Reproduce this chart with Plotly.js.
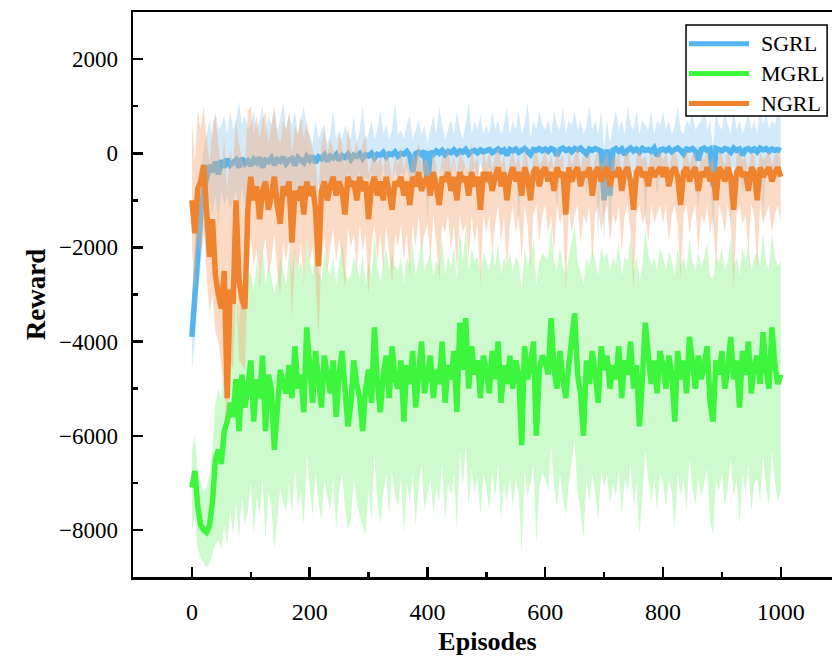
<!DOCTYPE html>
<html>
<head>
<meta charset="utf-8">
<script src="https://cdn.plot.ly/plotly-3.0.1.min.js"></script>
<style>
html,body{margin:0;padding:0;background:#fff;overflow:hidden;width:832px;height:664px;}
#chart{width:842px;height:664px;}
</style>
</head>
<body>
<div id="chart"></div>
<script>
// Episodes (every 5th episode)
const episodes = [0,5,10,15,20,25,30,35,40,45,50,55,60,65,70,75,80,85,90,95,
100,105,110,115,120,125,130,135,140,145,150,155,160,165,170,175,180,185,190,195,
200,205,210,215,220,225,230,235,240,245,250,255,260,265,270,275,280,285,290,295,
300,305,310,315,320,325,330,335,340,345,350,355,360,365,370,375,380,385,390,395,
400,405,410,415,420,425,430,435,440,445,450,455,460,465,470,475,480,485,490,495,
500,505,510,515,520,525,530,535,540,545,550,555,560,565,570,575,580,585,590,595,
600,605,610,615,620,625,630,635,640,645,650,655,660,665,670,675,680,685,690,695,
700,705,710,715,720,725,730,735,740,745,750,755,760,765,770,775,780,785,790,795,
800,805,810,815,820,825,830,835,840,845,850,855,860,865,870,875,880,885,890,895,
900,905,910,915,920,925,930,935,940,945,950,955,960,965,970,975,980,985,990,995,1000];

// SGRL
const sgrlMean = [-3900,-2900,-1900,-1300,-800,-450,-250,-400,-180,-450,-150,-300,-120,-250,-200,-140,-300,-100,-220,-160,
-260,-130,-200,-90,-300,-150,-180,-100,-250,-130,-170,-80,-220,-140,-110,-260,-90,-160,-200,-70,
-150,-60,-200,-80,-120,-40,-170,-60,-100,-30,-150,-50,-90,-20,-130,-40,-70,-10,-110,-30,
-60,0,-100,-20,-40,20,-80,-10,-30,30,-60,0,-20,40,-50,-400,-10,20,-30,50,
-700,30,-20,50,0,60,-30,40,10,70,-10,50,20,80,-20,40,60,10,70,30,
50,80,10,60,90,30,70,-40,80,50,90,20,60,100,40,-30,80,60,100,50,
90,40,100,70,-50,80,110,60,90,30,100,70,110,50,-20,90,60,100,80,40,
-1000,80,-900,60,100,40,90,-30,70,110,50,90,20,100,60,80,40,110,-60,70,
90,50,100,30,80,110,60,-20,90,70,100,40,-150,80,110,60,90,-700,100,70,
50,100,80,20,110,60,90,-40,80,100,50,90,30,110,70,100,40,90,60,80,50];
const sgrlUpper = [-3200,-1800,-1000,-400,100,400,700,300,900,500,600,800,400,900,500,700,1100,600,800,500,
600,900,500,700,1000,400,800,600,900,500,700,1100,500,800,600,900,400,700,1000,500,
400,200,700,300,500,600,200,400,900,300,500,300,600,400,300,800,200,500,1000,300,
400,700,300,500,900,400,600,300,500,1100,400,500,300,600,800,300,500,700,400,600,
200,500,800,400,1000,600,300,500,700,400,900,500,300,600,1100,400,700,500,800,400,
600,400,900,500,700,400,600,1000,400,700,500,900,400,600,1100,300,700,500,900,600,
500,700,400,900,600,500,1000,400,700,600,900,500,700,400,600,1000,500,700,400,900,
100,700,200,600,900,500,700,400,1000,600,500,900,400,700,600,500,900,400,700,600,
900,500,700,400,600,1000,500,400,700,600,900,500,600,700,1100,500,700,100,900,600,
500,900,600,400,1000,500,700,400,600,900,500,700,400,1000,600,900,500,700,600,900,700];
const sgrlLower = [-4600,-4000,-3000,-2400,-1800,-1400,-1000,-1300,-900,-1500,-800,-1100,-900,-1200,-1000,-800,-1300,-700,-1100,-900,
-1100,-800,-1000,-700,-1300,-900,-1000,-700,-1200,-800,-1000,-600,-1100,-800,-700,-1300,-600,-900,-1100,-600,
-900,-600,-1100,-700,-800,-500,-1000,-600,-700,-500,-900,-600,-700,-400,-900,-500,-600,-400,-800,-500,
-600,-400,-800,-500,-600,-300,-700,-500,-600,-300,-700,-400,-500,-300,-600,-1200,-500,-400,-600,-300,
-1500,-400,-600,-300,-500,-300,-700,-400,-500,-200,-600,-300,-500,-200,-700,-400,-300,-500,-200,-400,
-400,-300,-600,-400,-300,-600,-400,-1000,-300,-500,-300,-1600,-400,-300,-500,-900,-300,-400,-300,-500,
-300,-600,-300,-400,-1200,-400,-300,-500,-400,-700,-300,-400,-300,-500,-900,-300,-400,-300,-1800,-400,
-1900,-400,-1700,-500,-300,-500,-400,-900,-400,-300,-500,-400,-600,-300,-1500,-400,-500,-300,-900,-400,
-400,-500,-300,-600,-400,-300,-500,-900,-400,-500,-300,-600,-1200,-400,-300,-500,-400,-1800,-300,-500,
-500,-300,-400,-1600,-300,-500,-400,-900,-400,-300,-500,-400,-600,-300,-1400,-300,-500,-400,-300,-500,-400];

// MGRL
const mgrlMean = [-7100,-6750,-7500,-7900,-8000,-8050,-7900,-7400,-6500,-6300,-6600,-5900,-5700,-5300,-5600,-4800,-5900,-4700,-5400,-5000,
-4400,-5700,-4800,-5200,-4300,-5900,-4700,-5000,-6300,-5400,-4600,-4900,-5100,-4500,-5200,-4100,-5000,-4700,-5500,-3700,
-4500,-5300,-4200,-4900,-5400,-4300,-4800,-5100,-4400,-5600,-4700,-4200,-5000,-5800,-5300,-4400,-4900,-5200,-5900,-5000,
-4600,-5300,-3700,-4900,-5500,-4700,-4300,-5200,-4100,-4800,-5000,-4400,-5700,-4500,-4900,-4200,-5400,-4600,-4000,-5100,
-4700,-4300,-5200,-4600,-4900,-4000,-5300,-4500,-4800,-4200,-5500,-3600,-4600,-3500,-5000,-4100,-4700,-4400,-5200,-4300,
-4600,-5100,-4200,-4800,-4000,-5300,-4500,-4900,-4300,-5000,-4400,-4700,-6200,-4100,-4800,-4500,-4000,-6000,-4600,-4300,
-4400,-4700,-3500,-4600,-5000,-4200,-4800,-5200,-4500,-4000,-3400,-4700,-5100,-6000,-4400,-4900,-4200,-4700,-5300,-4100,
-4600,-4300,-5000,-4500,-4800,-4100,-5200,-4400,-4700,-4000,-5000,-4500,-5800,-4800,-3600,-4300,-4900,-4400,-5100,-4200,
-4500,-5000,-4300,-4700,-5700,-4200,-4800,-4400,-5100,-3900,-4600,-5000,-4300,-4800,-4500,-4100,-5300,-5700,-4400,-4700,
-4200,-5000,-4600,-3900,-4800,-4400,-5400,-4200,-4700,-4000,-5100,-4500,-4300,-4900,-3800,-4600,-5000,-3700,-4500,-4900,-4700];
const mgrlUpper = [-6300,-6000,-6700,-7000,-7200,-7100,-6800,-6300,-5300,-5000,-5200,-4300,-4000,-3400,-3600,-2900,-3700,-2800,-3200,-2600,
-2500,-2900,-2300,-2700,-1900,-2800,-2400,-2600,-3000,-2700,-2200,-2500,-2800,-2100,-2600,-2000,-2500,-2300,-2700,-1800,
-2300,-2600,-2000,-2500,-2700,-2100,-2400,-2600,-2200,-2800,-2300,-1900,-2500,-2700,-2600,-2200,-2400,-2700,-2100,-2800,
-2300,-2600,-1700,-2400,-2700,-2300,-2000,-2500,-2100,-2400,-2500,-2200,-2800,-2200,-2400,-1900,-2600,-2300,-1800,-2500,
-2300,-2100,-2600,-2300,-2400,-1800,-2600,-2200,-2400,-2000,-2700,-1600,-2300,-1600,-2500,-2000,-2300,-2200,-2600,-2100,
-2300,-2500,-2000,-2400,-1900,-2600,-2200,-2400,-2100,-2500,-2200,-2300,-2900,-2000,-2400,-2200,-1800,-2800,-2300,-2100,
-2200,-2300,-1500,-2300,-2500,-2000,-2400,-2600,-2200,-1900,-1500,-2300,-2500,-2800,-2200,-2400,-2000,-2300,-2600,-2000,
-2300,-2100,-2500,-2200,-2400,-1900,-2600,-2200,-2300,-1800,-2500,-2200,-2700,-2400,-1600,-2100,-2400,-2200,-2500,-2000,
-2200,-2500,-2100,-2300,-2600,-2000,-2400,-2200,-2500,-1800,-2300,-2500,-2100,-2400,-2200,-1900,-2600,-2700,-2200,-2300,
-2000,-2500,-2300,-1800,-2400,-2200,-2600,-2000,-2300,-1900,-2500,-2200,-2100,-2400,-1700,-2300,-2500,-1700,-2200,-2400,-2300];
const mgrlLower = [-8000,-7700,-8400,-8600,-8700,-8800,-8700,-8500,-8300,-8200,-8400,-7900,-8300,-7600,-8100,-7400,-8200,-7300,-7900,-7600,
-7000,-8100,-7300,-7700,-6900,-8200,-7200,-7500,-8400,-7800,-7100,-7400,-7600,-7000,-7700,-6700,-7500,-7200,-7900,-6400,
-7000,-7700,-6800,-7400,-7800,-6900,-7300,-7600,-6900,-8000,-7200,-6800,-7500,-8000,-7800,-6900,-7400,-7700,-7900,-8100,
-7100,-7800,-6400,-7400,-7900,-7200,-6800,-7700,-6700,-7300,-7500,-6900,-8100,-7000,-7400,-6800,-7900,-7100,-6600,-7600,
-7200,-6900,-7700,-7100,-7400,-6600,-7800,-7000,-7300,-6800,-8000,-6300,-7100,-6200,-7500,-6700,-7200,-6900,-7700,-6800,
-7100,-7600,-6800,-7300,-6600,-7800,-7000,-7400,-6900,-7500,-6900,-7200,-8500,-6700,-7300,-7000,-6600,-8300,-7100,-6800,
-6900,-7200,-6200,-7100,-7500,-6800,-7300,-7700,-7000,-6600,-6100,-7200,-7600,-8200,-6900,-7400,-6800,-7200,-7800,-6700,
-7100,-6800,-7500,-7000,-7300,-6700,-7700,-6900,-7200,-6600,-7500,-7000,-8100,-7300,-6300,-6900,-7400,-6900,-7600,-6800,
-7000,-7500,-6900,-7200,-8000,-6800,-7300,-6900,-7600,-6500,-7100,-7500,-6900,-7300,-7000,-6700,-7800,-8100,-6900,-7200,
-6800,-7500,-7100,-6500,-7300,-6900,-7900,-6800,-7200,-6600,-7600,-7000,-6900,-7400,-6400,-7100,-7500,-6300,-7000,-7400,-7200];

// NGRL
const ngrlMean = [-1000,-1700,-750,-600,-250,-1200,-2200,-1400,-2600,-3000,-3300,-2500,-5200,-2900,-3200,-1000,-2700,-3100,-3300,-1200,
-500,-1000,-700,-1400,-800,-600,-1200,-900,-500,-1100,-1500,-700,-900,-600,-1900,-800,-1000,-700,-1300,-600,
-900,-700,-1200,-2400,-800,-600,-1000,-700,-500,-900,-600,-800,-1300,-500,-700,-600,-1000,-500,-800,-600,
-1400,-700,-500,-900,-600,-1000,-500,-800,-1200,-600,-700,-500,-900,-600,-1100,-500,-700,-400,-800,-600,
-500,-900,-400,-700,-1100,-500,-600,-400,-800,-500,-1000,-400,-600,-500,-900,-400,-700,-500,-1200,-400,
-600,-400,-800,-500,-300,-700,-400,-1000,-500,-300,-600,-400,-900,-300,-500,-1000,-400,-300,-700,-400,
-300,-600,-400,-800,-300,-500,-400,-1300,-300,-600,-400,-300,-700,-400,-500,-300,-900,-400,-300,-600,
-400,-300,-700,-400,-500,-300,-800,-400,-300,-600,-1200,-400,-300,-500,-400,-700,-300,-500,-400,-300,
-500,-300,-700,-400,-300,-500,-1100,-400,-300,-600,-400,-300,-800,-400,-500,-300,-600,-400,-1000,-300,
-400,-600,-300,-500,-1200,-400,-300,-500,-400,-800,-300,-400,-1000,-300,-500,-400,-300,-600,-400,-300,-500];
const ngrlUpper = [700,-200,900,500,1000,300,-200,600,800,200,-400,300,-800,100,-200,700,200,-100,-300,900,
1000,400,800,300,700,900,200,600,1000,400,200,700,500,900,0,600,400,800,300,700,
300,100,-200,-900,200,500,0,300,100,-100,400,200,-300,600,100,0,300,-100,200,400,
-450,-150,50,-250,-50,-350,50,-150,-550,-50,-250,150,-350,-50,-450,50,-150,250,-250,-150,
-150,-450,50,-250,-550,-50,-150,150,-350,-50,-450,50,-150,-250,-450,250,-250,-50,-650,50,
-250,50,-350,-50,150,-250,-50,-550,-150,50,-250,-50,-450,150,-150,-550,-50,50,-250,-150,
50,-250,-50,-350,150,-150,-50,-750,50,-250,-50,150,-350,-50,-150,50,-450,-50,50,-250,
-150,50,-350,-50,-150,50,-450,-50,50,-250,-750,-50,50,-150,-50,-350,50,-150,-50,50,
-150,50,-350,-50,50,-150,-650,-50,50,-250,-50,50,-450,-50,-150,50,-250,-50,-650,50,
-50,-250,50,-150,-750,-50,50,-150,-50,-450,50,-50,-650,50,-150,-50,50,-250,-50,50,-150];
const ngrlLower = [-2000,-3000,-1800,-2200,-1500,-2600,-3400,-3000,-3800,-4000,-4500,-5000,-5800,-4400,-4600,-2800,-4400,-4500,-4600,-2600,
-1800,-2400,-2000,-2900,-2100,-1800,-2600,-2300,-1700,-2500,-3000,-1900,-2300,-1800,-3500,-2100,-2500,-1900,-2800,-1800,
-2300,-2000,-2700,-3900,-2200,-1800,-2500,-2000,-1600,-2300,-1800,-2200,-2900,-1600,-2000,-1700,-2500,-1500,-2100,-1700,
-3000,-2000,-1500,-2300,-1700,-2500,-1500,-2100,-2800,-1700,-2000,-1500,-2300,-1700,-2600,-1500,-2000,-1300,-2100,-1700,
-1500,-2300,-1300,-1900,-2700,-1500,-1700,-1300,-2100,-1500,-2500,-1300,-1700,-1500,-2300,-1300,-1900,-1500,-2800,-1300,
-1700,-1300,-2100,-1500,-1100,-1900,-1300,-2500,-1500,-1100,-1700,-1300,-2300,-1100,-1500,-2500,-1300,-1100,-1900,-1300,
-1100,-1700,-1300,-2100,-1100,-1500,-1300,-3000,-1100,-1700,-1300,-1100,-1900,-1300,-1500,-1100,-2300,-1300,-1100,-1700,
-1300,-1100,-1900,-1300,-1500,-1100,-2100,-1300,-1100,-1700,-2900,-1300,-1100,-1500,-1300,-1900,-1100,-1500,-1300,-1100,
-1500,-1100,-1900,-1300,-1100,-1500,-2700,-1300,-1100,-1700,-1300,-1100,-2100,-1300,-1500,-1100,-1700,-1300,-2500,-1100,
-1300,-1700,-1100,-1500,-2900,-1300,-1100,-1500,-1300,-2100,-1100,-1300,-2500,-1100,-1500,-1300,-1100,-1700,-1300,-1100,-1500];

const seriesNames = ['SGRL','MGRL','NGRL'];
const lineColors = ['#52b5f0','#3ef53e','#f0832e'];
const bandColors = ['rgba(130,195,240,0.35)','rgba(130,245,130,0.40)','rgba(245,170,120,0.42)'];

function band(lower, upper, i){
  return [
    {x: episodes, y: lower, type:'scatter', mode:'lines', line:{width:0, color:bandColors[i]}, showlegend:false, hoverinfo:'skip'},
    {x: episodes, y: upper, type:'scatter', mode:'lines', line:{width:0, color:bandColors[i]}, fill:'tonexty', fillcolor:bandColors[i], showlegend:false, hoverinfo:'skip'}
  ];
}
function meanLine(y, i){
  return {x: episodes, y: y, type:'scatter', mode:'lines', name: seriesNames[i], showlegend:false,
    line:{width:5.5, color:lineColors[i]}};
}

const data = [
  ...band(sgrlLower, sgrlUpper, 0), meanLine(sgrlMean, 0),
  ...band(mgrlLower, mgrlUpper, 1), meanLine(mgrlMean, 1),
  ...band(ngrlLower, ngrlUpper, 2), meanLine(ngrlMean, 2)
];

// Legend drawn as a framed box (paper coordinates)
const legendRowsY = [0.944, 0.891, 0.838];
const shapes = [{type:'rect', xref:'paper', yref:'paper', x0:0.780, x1:0.979, y0:0.816, y1:0.977,
  line:{color:'#000', width:1.5}, fillcolor:'#fff', layer:'above'}];
const annotations = [];
seriesNames.forEach((n, i) => {
  shapes.push({type:'line', xref:'paper', yref:'paper', x0:0.784, x1:0.869, y0:legendRowsY[i], y1:legendRowsY[i],
    line:{color:lineColors[i], width:5}, layer:'above'});
  annotations.push({xref:'paper', yref:'paper', x:0.883, y:legendRowsY[i], xanchor:'left', yanchor:'middle',
    text:n, showarrow:false, font:{size:22, family:'Liberation Serif, serif', color:'#000'}});
});

const serif = 'Liberation Serif, Times New Roman, serif';
const layout = {
  width: 842, height: 664,
  margin: {l:133, r:0, t:12, b:87},
  paper_bgcolor:'#fff', plot_bgcolor:'#fff',
  font: {family: serif, color:'#000'},
  showlegend:false,
  shapes: shapes,
  annotations: annotations,
  xaxis: {
    range:[-100, 1104], tick0:0, dtick:200,
    showgrid:false, zeroline:false,
    showline:true, linecolor:'#000', linewidth:2.5, mirror:true,
    ticks:'inside', ticklen:10, tickwidth:2.5, tickcolor:'#000',
    minor:{ticks:'inside', ticklen:5, tickwidth:2.5, dtick:100, tickcolor:'#000', showgrid:false},
    tickfont:{size:24, family:serif},
    ticklabelstandoff: 12,
    title:{text:'Episodes', font:{size:26, family:serif, weight:'bold'}, standoff: 8}
  },
  yaxis: {
    range:[-9000, 3000], tick0:0, dtick:2000,
    showgrid:false, zeroline:false,
    showline:true, linecolor:'#000', linewidth:2.5, mirror:true,
    ticks:'inside', ticklen:10, tickwidth:2.5, tickcolor:'#000',
    minor:{ticks:'inside', ticklen:5, tickwidth:2.5, dtick:1000, tickcolor:'#000', showgrid:false},
    tickfont:{size:23, family:serif},
    ticklabelstandoff: 8,
    title:{text:'Reward', font:{size:27, family:serif, weight:'bold'}, standoff: 6}
  }
};

Plotly.newPlot('chart', data, layout, {displayModeBar:false, staticPlot:true});
</script>
</body>
</html>
